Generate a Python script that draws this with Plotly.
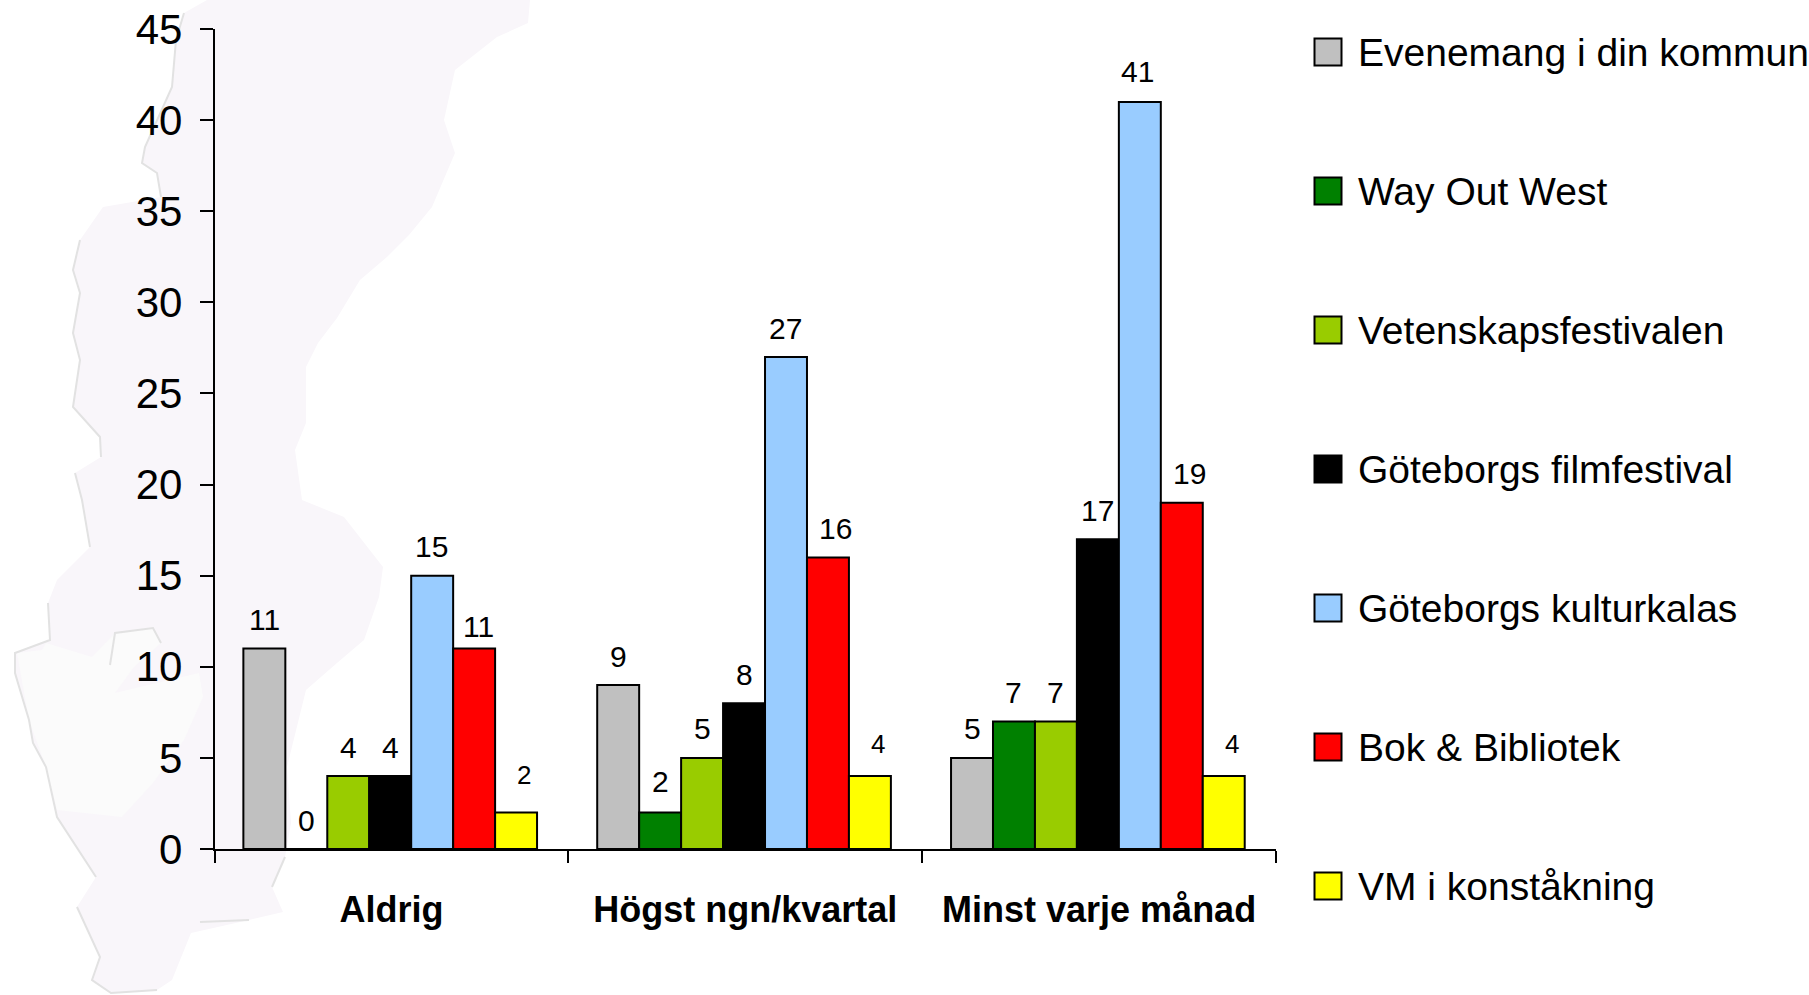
import plotly.graph_objects as go

W, H = 1809, 995
categories = ["Aldrig", "Högst ngn/kvartal", "Minst varje månad"]
series_names = ["Evenemang i din kommun", "Way Out West", "Vetenskapsfestivalen",
                "Göteborgs filmfestival", "Göteborgs kulturkalas", "Bok & Bibliotek", "VM i konståkning"]
evenemang = [11, 9, 5]
way_out_west = [0, 2, 7]
vetenskap = [4, 5, 7]
film = [4, 8, 17]
kulturkalas = [15, 27, 41]
bok = [11, 16, 19]
vm = [2, 4, 4]
series_values = [evenemang, way_out_west, vetenskap, film, kulturkalas, bok, vm]
colors = ["#C0C0C0", "#008000", "#99CC00", "#000000", "#99CCFF", "#FF0000", "#FFFF00"]
y_ticks = [0, 5, 10, 15, 20, 25, 30, 35, 40, 45]

# label placement tweaks, per series / per (series, category)
label_dx = [0, 0, 0, 0, -1, 8, 8]
label_xy_override = {(5, 0): (4, 22), (6, 0): (8, 38), (6, 1): (8, 32), (6, 2): (8, 32), (1, 1): (0, 31), (4, 2): (-2, 30)}

# decorative backdrop outline (pixel positions of the map silhouette)
map_outline = [(207,0),(184,13),(176,40),(172,87),(145,147),(142,163),(157,173),(161,197),(103,207),(80,240),
    (73,270),(80,293),(73,333),(80,360),(73,407),(100,437),(101,457),(75,473),(82,500),(90,547),(57,580),(48,603),
    (50,640),(15,653),(15,673),(29,720),(33,743),(46,767),(57,817),(96,877),(77,907),(100,957),(92,980),(111,993),
    (157,990),(172,980),(191,933),(249,920),(283,912),(272,887),(285,857),(291,823),(287,767),(306,690),(337,663),
    (364,640),(379,597),(383,567),(344,517),(302,500),(295,450),(306,423),(306,367),(318,343),(337,318),(360,280),
    (387,257),(409,235),(432,207),(455,153),(444,120),(455,70),(497,37),(528,23),(530,0)]
map_light = [(17,653),(42,650),(46,643),(92,657),(115,633),(153,628),(161,643),(134,667),(115,693),(199,673),
    (203,697),(184,740),(153,783),(122,817),(57,810),(46,767),(29,720)]
west_coast = [(184,13),(176,40),(172,87),(145,147),(142,163),(157,173),(161,197)]
west_coast2 = [(80,240),(73,270),(80,293),(73,333),(80,360),(73,407),(100,437),(101,457)]
west_coast3 = [(75,473),(82,500),(90,547)]
west_coast4 = [(48,603),(50,640),(15,653),(15,673),(29,720),(33,743),(46,767),(57,817),(96,877)]
west_coast5 = [(77,907),(100,957),(92,980),(111,993),(157,990)]
lake = [(110,665),(115,633),(153,628),(161,643)]
south_bits = [(200,922),(249,920)]
east_bits = [(272,887),(285,857)]


def path(pts, close=True):
    s = "M" + " L".join(f"{x/W:.5f},{1-y/H:.5f}" for x, y in pts)
    return s + (" Z" if close else "")


shapes = [
    dict(type="path", xref="paper", yref="paper", layer="below", path=path(map_outline), fillcolor="#F9F6FA", line=dict(width=0)),
    dict(type="path", xref="paper", yref="paper", layer="below", path=path(map_light), fillcolor="#FBFBFB", line=dict(width=0)),
]
for pts in [west_coast, west_coast2, west_coast3, west_coast4, west_coast5, lake, south_bits, east_bits]:
    shapes.append(dict(type="path", xref="paper", yref="paper", layer="below", path=path(pts, False),
                       line=dict(color="#E2E2E2", width=2)))

BARGAP = 0.17
NUDGE = -0.0034
fig = go.Figure()
annotations = []
bw = (1 - BARGAP) / len(series_names)
for j, (name, vals, col) in enumerate(zip(series_names, series_values, colors)):
    fig.add_bar(x=categories, y=vals, name=name, showlegend=False,
                width=bw, offset=(j - 3.5) * bw + NUDGE,
                marker=dict(color=col, line=dict(color="#000000", width=2)))
    for i, v in enumerate(vals):
        dx, dy = label_xy_override.get((j, i), (label_dx[j], 29))
        annotations.append(dict(x=i + (j - 3) * bw + NUDGE, y=v, xref="x", yref="y", text=str(v), showarrow=False,
                                yanchor="middle", yshift=dy, xshift=dx,
                                font=dict(family="Liberation Sans", size=26 if j == 6 else 30, color="#000000")))

# legend drawn on its own page-height axes so swatch size and row spacing can match
fig.add_scatter(x=[1328] * 7, y=series_names, xaxis="x2", yaxis="y2", mode="markers", showlegend=False,
                marker=dict(symbol="square", size=27, color=colors, line=dict(color="#000000", width=2)))
fig.add_scatter(x=[1358] * 7, y=series_names, xaxis="x2", yaxis="y3", mode="text", showlegend=False,
                text=series_names, textposition="middle right", cliponaxis=False,
                textfont=dict(family="Liberation Sans", size=39, color="#000"))

fig.update_layout(
    width=W, height=H, margin=dict(l=0, r=0, t=0, b=0, autoexpand=False), autosize=False,
    paper_bgcolor="#FFFFFF", plot_bgcolor="rgba(0,0,0,0)", barmode="overlay",
    shapes=shapes, annotations=annotations, showlegend=False,
    xaxis=dict(domain=[214.5/W, 1276/W], type="category", categoryorder="array", categoryarray=categories,
               tickson="boundaries", ticks="outside", ticklen=12, tickwidth=1.5, tickcolor="#000",
               showline=True, linecolor="#000", linewidth=1.5, showgrid=False, zeroline=False,
               ticklabelstandoff=28,
               tickfont=dict(family="Liberation Sans", size=36, color="#000", weight="bold")),
    yaxis=dict(domain=[1-849/H, 1-29/H], range=[0, 45], tickvals=y_ticks, ticks="outside", ticklen=13, tickwidth=1.5,
               tickcolor="#000", showline=True, linecolor="#000", linewidth=1.5, showgrid=False, zeroline=False,
               ticklabelstandoff=9,
               tickfont=dict(family="Liberation Sans", size=42, color="#000")),
    xaxis2=dict(domain=[1300/W, 1], range=[1300, W], visible=False, anchor="y2"),
    yaxis2=dict(domain=[0, 1], type="category", categoryorder="array", categoryarray=series_names,
                range=[6.784, -0.374], visible=False, anchor="x2"),
    yaxis3=dict(domain=[0, 1], type="category", categoryorder="array", categoryarray=series_names,
                range=[6.755, -0.403], visible=False, anchor="x2"),
)
fig.write_html("out.html", config={"displayModeBar": False}, post_script="document.body.style.margin='0';")
